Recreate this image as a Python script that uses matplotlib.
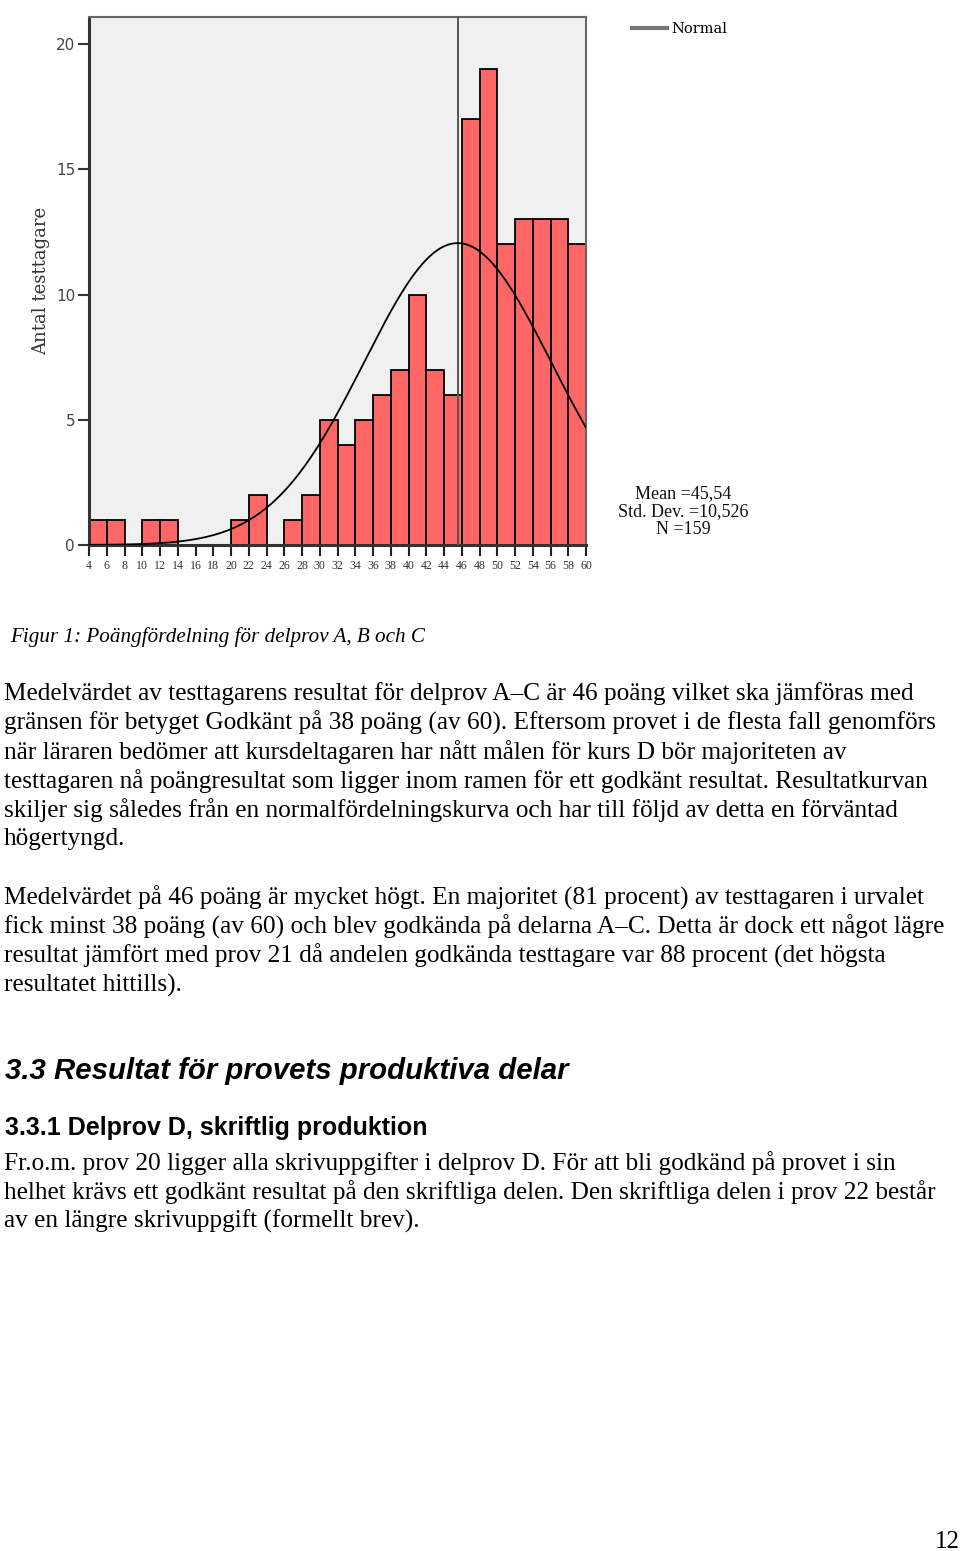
import numpy as np
import matplotlib
matplotlib.use("Agg")
import matplotlib.pyplot as plt
from matplotlib.lines import Line2D

# ---- data ----
bin_edges = [4, 6, 8, 10, 12, 14, 16, 18, 20, 22, 24, 26, 28, 30, 32, 34, 36, 38,
             40, 42, 44, 46, 48, 50, 52, 54, 56, 58, 60]
counts = [1, 1, 0, 1, 1, 0, 0, 0, 1, 2, 0, 1, 2, 5, 4, 5, 6, 7,
          10, 7, 6, 17, 19, 12, 13, 13, 13, 12]
y_ticks = [0, 5, 10, 15, 20]
mean = 45.54
std = 10.526
n = 159
bin_width = 2

caption = "Figur 1: Poängfördelning för delprov A, B och C"
para1 = [
    "Medelvärdet av testtagarens resultat för delprov A–C är 46 poäng vilket ska jämföras med",
    "gränsen för betyget Godkänt på 38 poäng (av 60). Eftersom provet i de flesta fall genomförs",
    "när läraren bedömer att kursdeltagaren har nått målen för kurs D bör majoriteten av",
    "testtagaren nå poängresultat som ligger inom ramen för ett godkänt resultat. Resultatkurvan",
    "skiljer sig således från en normalfördelningskurva och har till följd av detta en förväntad",
    "högertyngd.",
]
para2 = [
    "Medelvärdet på 46 poäng är mycket högt. En majoritet (81 procent) av testtagaren i urvalet",
    "fick minst 38 poäng (av 60) och blev godkända på delarna A–C. Detta är dock ett något lägre",
    "resultat jämfört med prov 21 då andelen godkända testtagare var 88 procent (det högsta",
    "resultatet hittills).",
]
heading = "3.3 Resultat för provets produktiva delar"
subheading = "3.3.1 Delprov D, skriftlig produktion"
para3 = [
    "Fr.o.m. prov 20 ligger alla skrivuppgifter i delprov D. För att bli godkänd på provet i sin",
    "helhet krävs ett godkänt resultat på den skriftliga delen. Den skriftliga delen i prov 22 består",
    "av en längre skrivuppgift (formellt brev).",
]
page_number = "12"

# ---- figure ----
W, H = 960, 1551
fig = plt.figure(figsize=(W / 100, H / 100), dpi=100)
fig.patch.set_facecolor("white")

def fx(px):
    return px / W

def fy(py):
    return 1 - py / H

ax_l, ax_r, ax_t, ax_b = 89, 586, 17, 545
ax = fig.add_axes([fx(ax_l), fy(ax_b), fx(ax_r - ax_l), (ax_b - ax_t) / H])
ax.set_facecolor("#f0f0f0")

ax.bar(bin_edges[:-1], counts, width=bin_width, align="edge",
       color="#ff6666", edgecolor="black", linewidth=1.3, zorder=2)

xs = np.linspace(bin_edges[0], bin_edges[-1], 400)
ys = n * bin_width * np.exp(-0.5 * ((xs - mean) / std) ** 2) / (std * np.sqrt(2 * np.pi))
ax.plot(xs, ys, color="black", linewidth=1.3, zorder=4)
ax.axvline(mean, color="#555555", linewidth=1.4, zorder=3)

ax.set_xlim(bin_edges[0], bin_edges[-1])
ax.set_ylim(0, 21.08)

for side in ["top", "right"]:
    ax.spines[side].set_color("#666666")
    ax.spines[side].set_linewidth(1.5)
for side in ["left", "bottom"]:
    ax.spines[side].set_color("#333333")
    ax.spines[side].set_linewidth(2.2)

ax.set_yticks(y_ticks)
ax.set_yticklabels([str(v) for v in y_ticks], fontsize=11, color="#444444",
                   family="DejaVu Sans")
ax.tick_params(axis="y", direction="out", length=8, width=1.5, color="#333333", pad=2)
ax.set_xticks(bin_edges)
ax.set_xticklabels([str(v) for v in bin_edges], fontsize=8.6, family="Liberation Serif",
                   color="#333333")
ax.tick_params(axis="x", direction="out", length=8, width=1.5, color="#222222", pad=3)

ax.set_ylabel("Antal testtagare", fontsize=13, family="DejaVu Serif", color="#333333",
              labelpad=4)

# legend
fig.legend(handles=[Line2D([], [], color="#777777", linewidth=3)], labels=["Normal"],
           loc="center left", bbox_to_anchor=(fx(619), fy(29)), frameon=False,
           handlelength=2.4, handletextpad=0.3,
           prop={"family": "DejaVu Serif", "size": 10.5})

# stats
def sv(x, d):
    return f"{x:.{d}f}".replace(".", ",")

stats = ["Mean =" + sv(mean, 2),
         "Std. Dev. =" + sv(std, 3),
         "N =" + str(n)]
for i, s in enumerate(stats):
    fig.text(fx(683), fy(494 + i * 17.5), s, ha="center", va="center",
             fontsize=13, family="Liberation Serif", color="#111111")

# document text
serif = "Liberation Serif"
fig.text(fx(10), fy(637), caption, ha="left", va="center", fontsize=15.2,
         family=serif, style="italic", color="black")

def para(lines, y0):
    for i, line in enumerate(lines):
        fig.text(fx(4), fy(y0 + i * 29.1), line, ha="left", va="center",
                 fontsize=18.2, family=serif, color="black")

para(para1, 694)
para(para2, 898)
fig.text(fx(5), fy(1071), heading, ha="left", va="center", fontsize=21.2,
         family="Liberation Sans", weight="bold", style="italic", color="black")
fig.text(fx(5), fy(1128), subheading, ha="left", va="center", fontsize=18,
         family="Liberation Sans", weight="bold", color="black")
para(para3, 1163)
fig.text(fx(960), fy(1542), page_number, ha="right", va="center", fontsize=18,
         family=serif, color="black")

fig.savefig("out.png", dpi=100, facecolor="white")
